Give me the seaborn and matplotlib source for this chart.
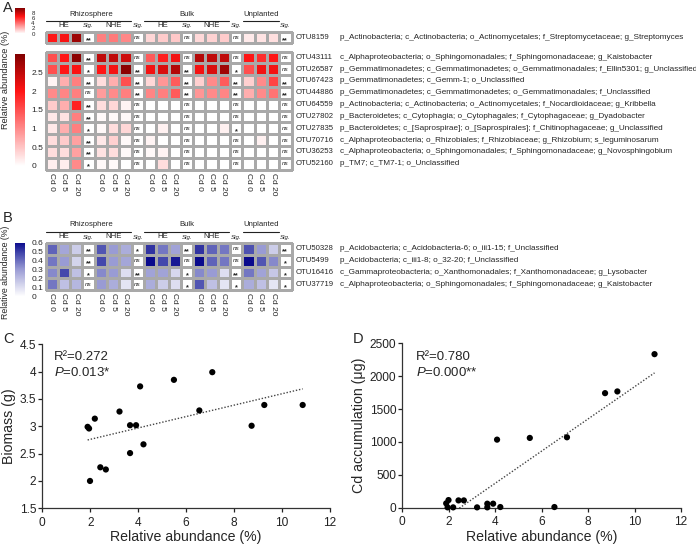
import numpy as np
import pandas as pd
import matplotlib
matplotlib.use('Agg')
import matplotlib.pyplot as plt
import seaborn as sns
from matplotlib.colors import LinearSegmentedColormap, ListedColormap, Normalize
from matplotlib.lines import Line2D
import matplotlib.transforms as mtransforms
import matplotlib.cm as cm

sns.set_style('white')
plt.rcParams['font.family'] = ['Liberation Sans', 'DejaVu Sans']
plt.rcParams['mathtext.fontset'] = 'custom'
plt.rcParams['mathtext.rm'] = 'Liberation Sans'
plt.rcParams['mathtext.it'] = 'Liberation Sans:italic'

# ---------------- data ----------------
cd_levels = ['Cd 0', 'Cd 5', 'Cd 20']
group_names = ['Rhizosphere', 'Bulk', 'Unplanted']
sub_names = ['HE', 'NHE', 'HE', 'NHE']

otu_a_top = ['OTU8159']
tax_a_top = ['p_Actinobacteria; c_Actinobacteria; o_Actinomycetales; f_Streptomycetaceae; g_Streptomyces']
a_top_values = [[6.6, 6.9, 9.2, 3.6, 3.8, 3.4, 1.2, 1.5, 1.6, 1.1, 1.3, 1.5, 0.6, 0.8, 0.9]]
a_top_sig = [['**', 'ns', 'ns', 'ns', '**']]

otu_a = ['OTU43111', 'OTU26587', 'OTU67423', 'OTU44886', 'OTU64559',
         'OTU27802', 'OTU27835', 'OTU70716', 'OTU36253', 'OTU52160']
tax_a = ['c_Alphaproteobacteria; o_Sphingomonadales; f_Sphingomonadaceae; g_Kaistobacter',
         'p_Gemmatimonadetes; c_Gemmatimonadetes; o_Gemmatimonadales; f_Ellin5301; g_Unclassified',
         'p_Gemmatimonadetes; c_Gemm-1; o_Unclassified',
         'p_Gemmatimonadetes; c_Gemmatimonadetes; o_Gemmatimonadales; f_Unclassified',
         'p_Actinobacteria; c_Actinobacteria; o_Actinomycetales; f_Nocardioidaceae; g_Kribbella',
         'p_Bacteroidetes; c_Cytophagia; o_Cytophagales; f_Cytophagaceae; g_Dyadobacter',
         'p_Bacteroidetes; c_[Saprospirae]; o_[Saprospirales]; f_Chitinophagaceae; g_Unclassified',
         'c_Alphaproteobacteria; o_Rhizobiales; f_Rhizobiaceae; g_Rhizobium; s_leguminosarum',
         'c_Alphaproteobacteria; o_Sphingomonadales; f_Sphingomonadaceae; g_Novosphingobium',
         'p_TM7; c_TM7-1; o_Unclassified']
a_values = [
    [1.5, 2.0, 2.9, 2.5, 2.5, 2.4, 1.4, 1.9, 2.1, 2.6, 2.5, 2.5, 2.0, 1.8, 2.0],
    [1.5, 2.0, 2.05, 2.0, 2.1, 2.9, 2.1, 2.3, 2.6, 2.1, 2.3, 2.75, 1.5, 2.1, 2.1],
    [0.1, 0.7, 1.1, 0.3, 0.7, 1.5, 0.35, 0.9, 1.4, 0.4, 1.0, 1.4, 0.4, 1.0, 1.6],
    [1.0, 1.05, 1.1, 0.85, 1.0, 1.1, 1.05, 1.1, 1.4, 0.9, 1.0, 1.05, 0.7, 1.0, 1.2],
    [0.45, 0.7, 1.9, 0.3, 0.35, 0.1, 0.0, 0.0, 0.0, 0.0, 0.0, 0.0, 0.0, 0.0, 0.0],
    [0.2, 0.25, 1.1, 0.05, 0.05, 0.05, 0.0, 0.0, 0.0, 0.0, 0.0, 0.0, 0.0, 0.0, 0.0],
    [0.2, 0.7, 1.1, 0.05, 0.3, 0.35, 0.0, 0.12, 0.0, 0.0, 0.0, 0.12, 0.0, 0.0, 0.0],
    [0.3, 0.45, 0.8, 0.2, 0.4, 0.05, 0.1, 0.0, 0.0, 0.0, 0.0, 0.0, 0.0, 0.12, 0.0],
    [0.3, 0.3, 0.8, 0.25, 0.3, 0.05, 0.05, 0.1, 0.0, 0.0, 0.0, 0.0, 0.0, 0.0, 0.0],
    [0.15, 0.15, 1.0, 0.05, 0.05, 0.0, 0.0, 0.3, 0.0, 0.0, 0.0, 0.0, 0.0, 0.0, 0.0],
]
a_sig = [
    ['**', 'ns', 'ns', 'ns', 'ns'],
    ['*', '**', '**', '*', 'ns'],
    ['**', '**', '**', '**', '**'],
    ['ns', '**', '**', '**', '**'],
    ['**', 'ns', 'ns', 'ns', 'ns'],
    ['**', 'ns', 'ns', 'ns', 'ns'],
    ['*', 'ns', 'ns', '*', 'ns'],
    ['**', 'ns', 'ns', 'ns', 'ns'],
    ['**', 'ns', 'ns', 'ns', 'ns'],
    ['*', 'ns', 'ns', 'ns', 'ns'],
]

otu_b = ['OTU50328', 'OTU5499', 'OTU16416', 'OTU37719']
tax_b = ['p_Acidobacteria; c_Acidobacteria-6; o_iii1-15; f_Unclassified',
         'p_Acidobacteria; c_iii1-8; o_32-20; f_Unclassified',
         'c_Gammaproteobacteria; o_Xanthomonadales; f_Xanthomonadaceae; g_Lysobacter',
         'c_Alphaproteobacteria; o_Sphingomonadales; f_Sphingomonadaceae; g_Kaistobacter']
b_values = [
    [0.42, 0.27, 0.15, 0.45, 0.30, 0.25, 0.52, 0.38, 0.28, 0.52, 0.42, 0.38, 0.46, 0.30, 0.15],
    [0.38, 0.30, 0.13, 0.48, 0.30, 0.27, 0.62, 0.48, 0.57, 0.60, 0.42, 0.38, 0.60, 0.45, 0.34],
    [0.34, 0.48, 0.19, 0.34, 0.30, 0.10, 0.28, 0.28, 0.12, 0.34, 0.30, 0.10, 0.38, 0.28, 0.17],
    [0.38, 0.19, 0.22, 0.30, 0.25, 0.08, 0.25, 0.15, 0.10, 0.45, 0.19, 0.08, 0.25, 0.19, 0.08],
]
b_sig = [
    ['**', '*', '**', 'ns', '**'],
    ['**', 'ns', 'ns', 'ns', '*'],
    ['*', '**', '*', '**', '*'],
    ['ns', 'ns', '*', '*', '*'],
]

rel_abund = [1.89, 1.95, 1.99, 2.19, 2.42, 2.65, 3.22, 3.66, 3.66, 3.91,
             4.08, 4.22, 5.49, 6.55, 7.09, 8.73, 9.26, 10.86]
biomass = [2.99, 2.96, 2.00, 3.14, 2.25, 2.21, 3.27, 3.02, 2.51, 3.02,
           3.73, 2.67, 3.85, 3.29, 3.99, 3.01, 3.39, 3.39]
cd_accum = [66, 5, 116, 5, 111, 111, 5, 61, 5, 61,
            1035, 10, 1061, 10, 1071, 1742, 1768, 2335]

# ---------------- layout helpers ----------------
W, H = 696, 546
fig = plt.figure(figsize=(W / 100, H / 100), dpi=100)


def fx(x):
    return x / W


def fy(y):
    return 1 - y / H


def add_ax(x0, y0, x1, y1):
    return fig.add_axes([fx(x0), fy(y1), (x1 - x0) / W, (y1 - y0) / H])


def ftext(x, y, s, **kw):
    return fig.text(fx(x), fy(y), s, **kw)


def fline(x0, x1, y, **kw):
    fig.add_artist(Line2D([fx(x0), fx(x1)], [fy(y), fy(y)], transform=fig.transFigure, **kw))


HX0, HX1 = 45.5, 291.5
CW = (HX1 - HX0) / 20.0


def col_center(c):
    return HX0 + (c + 0.5) * CW


red = LinearSegmentedColormap.from_list('reds', [(0, '#ffffff'), (0.67, '#ff1414'), (1, '#800000')])
blue = LinearSegmentedColormap.from_list('blues', [(0, '#ffffff'), (0.5, '#9a9cd4'),
                                                   (0.8, '#4448ac'), (1, '#0a0a8c')])
GRID = '#a9a9a9'
OTU_FS = 5.6
TAX_FS = 5.85


def build(values):
    n = len(values)
    mat = np.full((n, 20), np.nan)
    for i, row in enumerate(values):
        for g in range(5):
            mat[i, g * 4:g * 4 + 3] = row[g * 3:g * 3 + 3]
    return mat


def draw_heat(ax, values, sig, otus, taxa, cmap, vmax, xlabels):
    mat = build(values)
    nan_mask = np.isnan(mat)
    sns.heatmap(pd.DataFrame(mat), ax=ax, cmap=cmap, vmin=0, vmax=vmax, mask=nan_mask,
                cbar=False, linewidths=0.8, linecolor=GRID, xticklabels=False, yticklabels=False)
    sns.heatmap(pd.DataFrame(np.zeros_like(mat)), ax=ax, cmap=ListedColormap(['white']),
                vmin=0, vmax=1, mask=~nan_mask, cbar=False, linewidths=0.8, linecolor=GRID,
                xticklabels=False, yticklabels=False)
    for coll in ax.collections:
        coll.set_clip_on(False)
    for i, row in enumerate(sig):
        for g, s in enumerate(row):
            if s == 'ns':
                ax.text(g * 4 + 3.5, i + 0.5, s, ha='center', va='center', fontsize=4.6,
                        style='italic')
            else:
                ax.text(g * 4 + 3.5, i + 0.78, s, ha='center', va='center', fontsize=5.2,
                        fontweight='bold')
    tr = mtransforms.blended_transform_factory(fig.transFigure, ax.transData)
    for i, (o, t) in enumerate(zip(otus, taxa)):
        ax.text(fx(296), i + 0.5, o, transform=tr, ha='left', va='center', fontsize=OTU_FS)
        ax.text(fx(340), i + 0.5, t, transform=tr, ha='left', va='center', fontsize=TAX_FS)
    if xlabels:
        ticks = [g * 4 + k + 0.5 for g in range(5) for k in range(3)]
        ax.set_xticks(ticks)
        ax.set_xticklabels(cd_levels * 5, rotation=270, fontsize=6)
        ax.tick_params(axis='x', length=0, pad=2.5)


def draw_headers(y_grp, y_line, y_sub):
    spans = [(0, 6), (8, 14), (16, 18)]
    centers = [91, None, None]
    for (c0, c1), name, cen in zip(spans, group_names, centers):
        x0 = HX0 + c0 * CW + 0.5
        x1 = HX0 + (c1 + 1) * CW - 0.5
        fline(x0, x1, y_line, color='#222222', lw=0.8)
        ftext(cen if cen else (x0 + x1) / 2, y_grp, name, ha='center', va='center', fontsize=5.6)
    for j, name in enumerate(sub_names):
        ftext(col_center(j * 4 + 1), y_sub, name, ha='center', va='center', fontsize=5.6)
    for g in range(5):
        ftext(col_center(g * 4 + 3), y_sub, 'Sig.', ha='center', va='center', fontsize=4.4,
              style='italic')


def add_cbar(y0, y1, cmap, vmax, ticks, labels, fs=6):
    cax = add_ax(15, y0, 25, y1)
    sm = cm.ScalarMappable(norm=Normalize(0, vmax), cmap=cmap)
    cb = fig.colorbar(sm, cax=cax, ticks=ticks)
    cb.outline.set_visible(False)
    cb.set_ticklabels(labels)
    cax.tick_params(length=0, labelsize=fs, pad=4.5)
    return cb


# ---------------- Panel A ----------------
ax_at = add_ax(HX0, 31.5, HX1, 43)
draw_heat(ax_at, a_top_values, a_top_sig, otu_a_top, tax_a_top, red, 10, False)
ax_a = add_ax(HX0, 51.5, HX1, 169.5)
draw_heat(ax_a, a_values, a_sig, otu_a, tax_a, red, 3, True)
draw_headers(14, 20.5, 25.5)
add_cbar(8, 33.5, red, 10, [0, 2, 4, 6, 8], ['0', '2', '4', '6', '8'], fs=4.4)
add_cbar(54, 166, red, 3, [0, 0.5, 1, 1.5, 2, 2.5], ['0', '0.5', '1', '1.5', '2', '2.5'])
ftext(6, 80, 'Relative abundance (%)', rotation=90, ha='center', va='center', fontsize=6.6)

# ---------------- Panel B ----------------
ax_b = add_ax(HX0, 243, HX1, 290)
draw_heat(ax_b, b_values, b_sig, otu_b, tax_b, blue, 0.6, True)
draw_headers(225, 231.5, 237)
add_cbar(242.5, 296.5, blue, 0.6, [0, 0.1, 0.2, 0.3, 0.4, 0.5, 0.6],
         ['0', '0.1', '0.2', '0.3', '0.4', '0.5', '0.6'])
ftext(6, 272, 'Relative abundance (%)', rotation=90, ha='center', va='center', fontsize=6.3)

# ---------------- Panels C and D ----------------
df = pd.DataFrame({'rel': rel_abund, 'biomass': biomass, 'cd': cd_accum})


def scatter_panel(ax, ycol, ylim, yticks, yticklabels, ylabel, ylabel_x):
    sns.regplot(data=df, x='rel', y=ycol, ax=ax, scatter=False, ci=None,
                line_kws=dict(color='#444444', lw=1.0, ls=(0, (1, 1.3))))
    sns.scatterplot(data=df, x='rel', y=ycol, ax=ax, color='black', s=20, edgecolor='none',
                    zorder=3)
    ax.collections[-1].set_clip_on(False)
    ax.set_xlim(0, 12)
    ax.set_ylim(*ylim)
    ax.set_xticks([0, 2, 4, 6, 8, 10, 12])
    ax.set_yticks(yticks)
    ax.set_yticklabels(yticklabels)
    ax.tick_params(axis='both', which='both', left=True, bottom=True, direction='out',
                   length=3, width=0.9, labelsize=8.6, colors='#222222', pad=1.5)
    ax.tick_params(axis='x', pad=3)
    sns.despine(ax=ax)
    for sp in ['left', 'bottom']:
        ax.spines[sp].set_color('#333333')
        ax.spines[sp].set_linewidth(0.9)
    ax.set_xlabel('Relative abundance (%)', fontsize=10.2)
    ax.xaxis.set_label_coords(0.5, fy(536.7), transform=mtransforms.blended_transform_factory(
        ax.transAxes, fig.transFigure))
    ax.xaxis.label.set_va('center')
    ax.set_ylabel(ylabel, fontsize=10.2, va='center')
    ax.yaxis.set_label_coords(fx(ylabel_x), 0.5, transform=mtransforms.blended_transform_factory(
        fig.transFigure, ax.transAxes))
    return ax


axC = add_ax(42.3, 344.3, 330, 508.3)
scatter_panel(axC, 'biomass', (1.5, 4.5), [1.5, 2, 2.5, 3, 3.5, 4, 4.5],
              ['1.5', '2', '2.5', '3', '3.5', '4', '4.5'], 'Biomass (g)', 9)
ftext(54, 357, 'R²=0.272', ha='left', va='center', fontsize=9.5)
ftext(54, 372.5, '$P$=0.013*', ha='left', va='center', fontsize=9.5)

axD = add_ax(402.3, 343.3, 681, 507.7)
scatter_panel(axD, 'cd', (0, 2500), [0, 500, 1000, 1500, 2000, 2500],
              ['0', '500', '1000', '1500', '2000', '2500'], 'Cd accumulation (μg)', 359)
ftext(416, 357, 'R²=0.780', ha='left', va='center', fontsize=9.5)
ftext(416, 372.5, '$P$=0.000**', ha='left', va='center', fontsize=9.5)

# ---------------- panel letters ----------------
for letter, (x, y) in {'A': (3, 11.7), 'B': (3, 221.7), 'C': (3, 343), 'D': (353, 343)}.items():
    ftext(x, y, letter, ha='left', va='baseline', fontsize=10.5)

fig.savefig('out.png', dpi=100)
